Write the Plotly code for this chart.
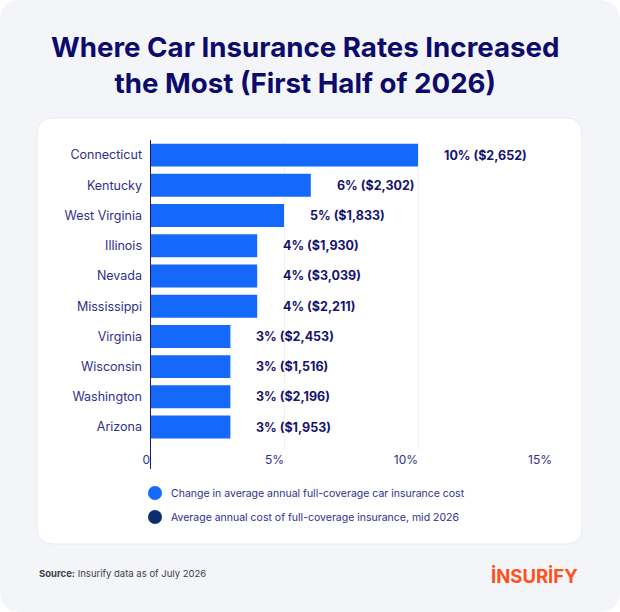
import plotly.graph_objects as go

# Data
# =====================================================================
states = ['Connecticut', 'Kentucky', 'West Virginia', 'Illinois', 'Nevada',
          'Mississippi', 'Virginia', 'Wisconsin', 'Washington', 'Arizona']
pct_change = [10, 6, 5, 4, 4, 4, 3, 3, 3, 3]
avg_cost = [2652, 2302, 1833, 1930, 3039, 2211, 2453, 1516, 2196, 1953]
x_ticks = [0, 5, 10, 15]
x_tick_text = ['0', '5%', '10%', '15%']
legend_names = ['Change in average annual full-coverage car insurance cost',
                'Average annual cost of full-coverage insurance, mid 2026']

# Colours and layout helpers
# =====================================================================
W, H = 620, 612
L, R, T, B = 150, 552, 140, 450   # plot area in pixels
BLUE = '#1469fb'
NAVY = '#0b2f6e'
INK = '#14136e'
TEXT = '#2f2f8c'
FONT = 'Inter'


def px(x):
    return (x - L) / (R - L)


def py(y):
    return (B - y) / (B - T)


def rounded_rect(x0, y0, x1, y1, r):
    # rounded rectangle as an svg path in paper units (pixel input)
    pts = [
        f"M{px(x0 + r)},{py(y0)}",
        f"L{px(x1 - r)},{py(y0)}",
        f"Q{px(x1)},{py(y0)} {px(x1)},{py(y0 + r)}",
        f"L{px(x1)},{py(y1 - r)}",
        f"Q{px(x1)},{py(y1)} {px(x1 - r)},{py(y1)}",
        f"L{px(x0 + r)},{py(y1)}",
        f"Q{px(x0)},{py(y1)} {px(x0)},{py(y1 - r)}",
        f"L{px(x0)},{py(y0 + r)}",
        f"Q{px(x0)},{py(y0)} {px(x0 + r)},{py(y0)}",
        "Z",
    ]
    return " ".join(pts)


# Figure
# =====================================================================
fig = go.Figure()

fig.add_trace(go.Bar(
    x=pct_change,
    y=states,
    orientation='h',
    marker=dict(color=BLUE, line_width=0),
    width=0.76,
    showlegend=False,
    hoverinfo='skip'
))

# Value labels
for s, p, c in zip(states, pct_change, avg_cost):
    fig.add_annotation(
        x=p, y=s, xref='x', yref='y',
        text=f"<b>{p}% (${c:,})</b>",
        showarrow=False, xanchor='left', xshift=24,
        font=dict(family=FONT, size=12.5, color=INK)
    )

# Background and card
fig.add_shape(type='path', path=rounded_rect(0, 0, W, H, 22),
              xref='paper', yref='paper', fillcolor='#f4f5f9',
              line_width=0, layer='below')
fig.add_shape(type='path', path=rounded_rect(37, 118, 582, 544, 16),
              xref='paper', yref='paper', fillcolor='white',
              line=dict(color='#e9eaf0', width=1), layer='below')

# Custom legend
for i, (name, col) in enumerate(zip(legend_names, [BLUE, NAVY])):
    yc = 493 + i * 24
    fig.add_shape(type='circle', xref='paper', yref='paper',
                  x0=px(148), x1=px(162), y0=py(yc + 7), y1=py(yc - 7),
                  fillcolor=col, line_width=0)
    fig.add_annotation(
        text=name, xref='paper', yref='paper', x=px(169), y=py(yc),
        showarrow=False, xanchor='left', yanchor='middle',
        font=dict(family=FONT, size=10.5, color=TEXT)
    )

# Title, source, logo
fig.add_annotation(
    text="<b>Where Car Insurance Rates Increased<br>the Most (First Half of 2026)</b>",
    xref='paper', yref='paper', x=px(305), y=py(65),
    showarrow=False, xanchor='center', yanchor='middle',
    font=dict(family=FONT, size=27.7, color='#0c0b6b'),
    align='center'
)
fig.add_annotation(
    text="<b>Source:</b> Insurify data as of July 2026",
    xref='paper', yref='paper', x=px(37), y=py(573),
    showarrow=False, xanchor='left', yanchor='middle',
    font=dict(family=FONT, size=9.5, color='#3d3d4a')
)
fig.add_annotation(
    text="<b>İNSURİFY</b>",
    xref='paper', yref='paper', x=px(580), y=py(576),
    showarrow=False, xanchor='right', yanchor='middle',
    font=dict(family=FONT, size=18.5, color='#ff5020')
)

fig.update_layout(
    width=W, height=H,
    margin=dict(l=L, r=W - R, t=T, b=H - B, pad=0),
    paper_bgcolor='white',
    plot_bgcolor='rgba(0,0,0,0)',
    showlegend=False,
    xaxis=dict(
        range=[0, 15],
        tickvals=x_ticks,
        ticktext=x_tick_text,
        ticklabelposition='outside left',
        ticks='',
        ticklabelstandoff=1,
        showgrid=True,
        gridcolor='#f1f1f5',
        gridwidth=1,
        zeroline=False,
        showline=False,
        tickfont=dict(family=FONT, size=12, color=TEXT),
        fixedrange=True
    ),
    yaxis=dict(
        categoryorder='array',
        categoryarray=states[::-1],
        range=[-0.76, 9.5],
        showgrid=False,
        zeroline=False,
        showline=False,
        ticks='',
        ticklabelstandoff=7,
        tickfont=dict(family=FONT, size=12.5, color=TEXT),
        fixedrange=True
    ),
    font=dict(family=FONT)
)

# Axis line at zero
fig.add_shape(type='line', xref='x', yref='paper', x0=0, x1=0,
              y0=py(469), y1=1, line=dict(color='#1b1a6b', width=2))

fig.write_html("out.html", config={'displayModeBar': False},
               post_script="document.body.style.margin='0';")
